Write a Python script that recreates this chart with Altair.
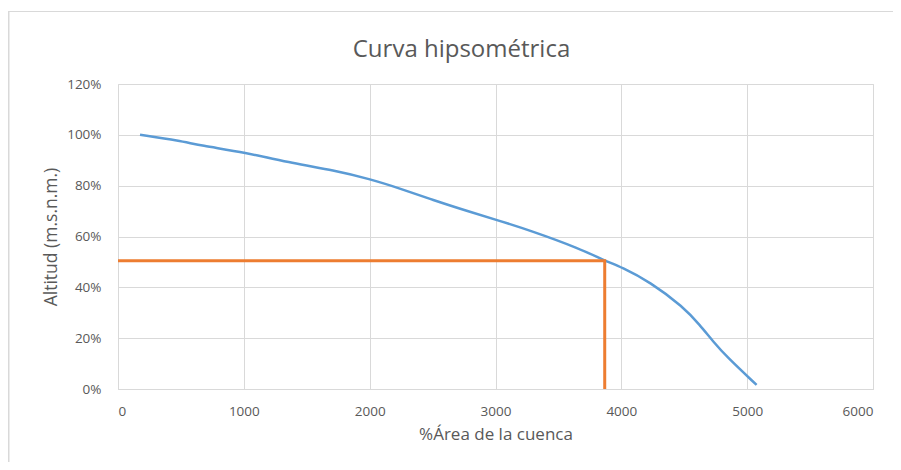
import altair as alt
import pandas as pd

# Blue curve (hypsometric curve)
area = [175, 493, 652, 1004, 1399, 1711, 2003, 2241, 2506, 2771, 3036, 3274, 3672, 3862, 4002, 4228, 4493, 4625, 4731, 4837, 5075]
altitud = [1.000, 0.977, 0.958, 0.931, 0.887, 0.861, 0.826, 0.789, 0.743, 0.701, 0.661, 0.624, 0.552, 0.506, 0.480, 0.421, 0.323, 0.251, 0.186, 0.127, 0.016]

# Orange guide (median altitude)
guide_x = [0, 3868, 3868]
guide_y = [0.505, 0.505, 0.0]

x_ticks = [0, 1000, 2000, 3000, 4000, 5000, 6000]
y_ticks = [0, 0.2, 0.4, 0.6, 0.8, 1.0, 1.2]

curve = pd.DataFrame({"x": area, "y": altitud, "o": list(range(len(area)))})
guide = pd.DataFrame({"x": guide_x, "y": guide_y, "o": list(range(len(guide_x)))})

FONT = "Open Sans"
GRAY = "#595959"
PAD_L, PAD_T, PAD_R, PAD_B = 110, 76, 20, 73
W, H = 755, 305

xs = alt.Scale(domain=[0, 6000], nice=False)
ys = alt.Scale(domain=[0, 1.2], nice=False)

xaxis = alt.Axis(values=x_ticks, format="d", title="%Área de la cuenca", grid=True,
                 gridColor="#d9d9d9", domain=True, domainColor="#d9d9d9", domainWidth=1,
                 ticks=False, labelPadding=15, labelColor=GRAY, labelFont=FONT, labelFontSize=13.5,
                 titleColor=GRAY, titleFont=FONT, titleFontSize=17, titleFontWeight="normal",
                 titlePadding=9)
yaxis = alt.Axis(values=y_ticks, format=".0%", title="Altitud (m.s.n.m.)", grid=True,
                 gridColor="#d9d9d9", domain=False, ticks=False, labelPadding=17,
                 labelColor=GRAY, labelFont=FONT, labelFontSize=13.5,
                 titleColor=GRAY, titleFont=FONT, titleFontSize=17.5, titleFontWeight="normal",
                 titlePadding=6)

blue = alt.Chart(curve).mark_line(color="#5B9BD5", strokeWidth=2.5, interpolate="basis").encode(
    x=alt.X("x:Q", scale=xs, axis=xaxis),
    y=alt.Y("y:Q", scale=ys, axis=yaxis),
    order="o:Q",
)
orange = alt.Chart(guide).mark_line(color="#ED7D31", strokeWidth=3).encode(
    x=alt.X("x:Q", scale=xs),
    y=alt.Y("y:Q", scale=ys),
    order="o:Q",
)

# chart-area frame (top and left edges visible in the reference)
frame_df = pd.DataFrame({"a": [0]})
frame_top = alt.Chart(frame_df).mark_rule(color="#d9d9d9", strokeWidth=1).encode(
    x=alt.value(-PAD_L), x2=alt.value(W + PAD_R + 20), y=alt.value(-PAD_T + 3.5))
frame_left = alt.Chart(frame_df).mark_rule(color="#d9d9d9", strokeWidth=1.5).encode(
    x=alt.value(-PAD_L + 0.75), y=alt.value(-PAD_T + 3), y2=alt.value(H + PAD_B))

chart = alt.layer(blue, orange, frame_top, frame_left).properties(
    width=W, height=H,
    title=alt.TitleParams("Curva hipsométrica", font=FONT, fontSize=24, fontWeight="normal",
                          color=GRAY, anchor="middle", dx=-34, offset=-52),
    autosize=alt.AutoSizeParams(type="none"),
    padding={"left": PAD_L, "top": PAD_T, "right": PAD_R, "bottom": PAD_B},
).configure_view(stroke=None).configure(background="white")

chart.save("out.html", embed_options={"renderer": "svg", "actions": False})
